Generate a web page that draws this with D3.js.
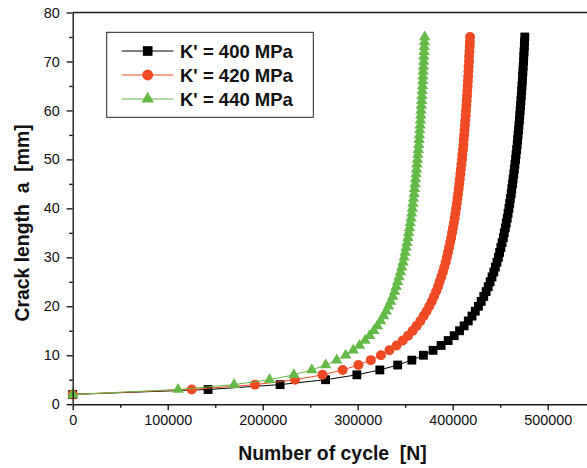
<!DOCTYPE html>
<html>
<head>
<meta charset="utf-8">
<script src="https://cdn.jsdelivr.net/npm/d3@7"></script>
<style>
  html, body { margin: 0; padding: 0; background: #fff; }
  svg { display: block; font-family: "Liberation Sans", Arial, Helvetica, sans-serif; }
  text.title { white-space: pre; }
</style>
</head>
<body>
<svg id="chart" width="587" height="468"></svg>
<script>
// Crack length a [mm] at each recorded step
const crackLength = [2,3,4,5,6,7,8,9,10,11,12,13,14,15,16,17,18,19,20,21,22,23,24,25,26,27,28,29,30,
  31,32,33,34,35,36,37,38,39,40,41,42,43,44,45,46,47,48,49,50,51,52,53,54,55,56,57,58,59,60,
  61,62,63,64,65,66,67,68,69,70,71,72,73,74,75];

// Number of cycles N needed to reach each crack length
const cycles400 = [0,142500,218300,266200,299100,323300,342100,357000,369200,379300,387800,395200,401600,407200,
  412000,416400,420300,423800,427100,430000,432700,435200,437400,439400,441400,443300,444900,446600,448100,
  449400,450700,452000,453300,454300,455400,456400,457400,458300,459200,460000,460700,461600,462200,463000,
  463600,464300,464900,465500,466200,466700,467300,467900,468300,468800,469300,469700,470200,470600,471000,
  471400,471800,472200,472600,472900,473300,473600,473900,474200,474600,474800,475100,475400,475600,475900];

const cycles420 = [0,125300,191900,234000,262900,284200,300700,313800,324500,333400,340900,347400,353000,357900,
  362100,366000,369400,372500,375400,378000,380300,382500,384500,386200,388000,389700,391100,392600,393900,
  395000,396200,397300,398400,399300,400300,401200,402100,402800,403600,404300,405000,405700,406300,407000,
  407500,408100,408600,409200,409800,410200,410800,411300,411600,412100,412500,412900,413300,413700,414000,
  414400,414700,415100,415400,415700,416000,416300,416600,416800,417200,417300,417600,417900,418100,418300];

const cycles440 = [0,110900,169900,207200,232800,251700,266300,277900,287400,295300,301900,307700,312600,317000,
  320700,324200,327200,329900,332500,334800,336900,338800,340500,342100,343600,345100,346400,347700,348800,
  349900,350900,351900,352900,353700,354500,355300,356100,356800,357500,358100,358700,359400,359800,360400,
  360900,361500,361900,362400,362900,363300,363800,364300,364600,365000,365300,365700,366100,366400,366700,
  367000,367300,367600,367900,368200,368500,368700,368900,369200,369500,369600,369900,370100,370300,370500];

const seriesLabels = ["K' = 400 MPa", "K' = 420 MPa", "K' = 440 MPa"];
const xTickValues = [0, 100000, 200000, 300000, 400000, 500000];
const xMinorValues = [50000, 150000, 250000, 350000, 450000, 550000];
const yTickValues = [0, 10, 20, 30, 40, 50, 60, 70, 80];
const yMinorValues = [5, 15, 25, 35, 45, 55, 65, 75];

const xTitle = "Number of cycle  [N]";
const yTitle = "Crack length  a  [mm]";

// ---- drawing ----
const svg = d3.select("#chart");

const plotLeft = 72.7, plotRight = 595.2, plotTop = 12.5, plotBottom = 404.2;
const axisColor = "#1a1a1a";

const x = d3.scaleLinear().domain([0, 550000]).range([plotLeft, plotRight]);
const y = d3.scaleLinear().domain([0, 80]).range([plotBottom, plotTop]);

const series = [
  { label: seriesLabels[0], values: cycles400, color: "#000000", lineColor: "#000000", symbol: d3.symbolSquare, size: 78 },
  { label: seriesLabels[1], values: cycles420, color: "#ef4a23", lineColor: "#ef4a23", symbol: d3.symbolCircle, size: 78 },
  { label: seriesLabels[2], values: cycles440, color: "#64ba47", lineColor: "#64ba47", symbol: d3.symbolTriangle, size: 56 }
];

// curves + markers
const line = d3.line().x(d => x(d[0])).y(d => y(d[1]));
const plot = svg.append("g");
series.forEach(s => {
  const pts = s.values.map((n, i) => [n, crackLength[i]]);
  plot.append("path")
    .attr("d", line(pts))
    .attr("fill", "none")
    .attr("stroke", s.lineColor)
    .attr("stroke-width", 1);
  plot.append("g").selectAll("path")
    .data(pts)
    .join("path")
    .attr("transform", d => `translate(${x(d[0])},${y(d[1])})`)
    .attr("d", d3.symbol().type(s.symbol).size(s.size))
    .attr("fill", s.color);
});

// x axis
const xAxis = svg.append("g")
  .attr("transform", `translate(0,${plotBottom})`)
  .call(d3.axisBottom(x).tickValues(xTickValues).tickSize(6).tickSizeOuter(0).tickPadding(5)
        .tickFormat(d3.format("d")));
xAxis.selectAll("text").attr("font-size", 14.4).attr("fill", "#111").attr("font-family", null);
svg.append("g")
  .attr("transform", `translate(0,${plotBottom})`)
  .call(d3.axisBottom(x).tickValues(xMinorValues).tickSize(3.5).tickSizeOuter(0).tickFormat(""))
  .call(g => g.select(".domain").remove());

// y axis
const yAxis = svg.append("g")
  .attr("transform", `translate(${plotLeft},0)`)
  .call(d3.axisLeft(y).tickValues(yTickValues).tickSize(6).tickSizeOuter(0).tickPadding(7));
yAxis.selectAll("text").attr("font-size", 14.4).attr("fill", "#111").attr("font-family", null);
svg.append("g")
  .attr("transform", `translate(${plotLeft},0)`)
  .call(d3.axisLeft(y).tickValues(yMinorValues).tickSize(3.5).tickSizeOuter(0).tickFormat(""))
  .call(g => g.select(".domain").remove());

svg.selectAll(".domain, .tick line").attr("stroke", axisColor).attr("stroke-width", 1.4);

// top frame line
svg.append("line")
  .attr("x1", plotLeft).attr("x2", plotRight)
  .attr("y1", plotTop).attr("y2", plotTop)
  .attr("stroke", axisColor).attr("stroke-width", 1.4);

// axis titles
svg.append("text")
  .attr("class", "title")
  .attr("x", 332.5).attr("y", 460)
  .attr("text-anchor", "middle")
  .attr("font-size", 19.4).attr("font-weight", "bold").attr("fill", "#111")
  .text(xTitle);

svg.append("text")
  .attr("class", "title")
  .attr("transform", "translate(29,223) rotate(-90)")
  .attr("text-anchor", "middle")
  .attr("font-size", 19.4).attr("font-weight", "bold").attr("fill", "#111")
  .text(yTitle);

// legend
const legend = svg.append("g");
legend.append("rect")
  .attr("x", 106.7).attr("y", 32.3)
  .attr("width", 206.6).attr("height", 85)
  .attr("fill", "#fff").attr("stroke", "#222").attr("stroke-width", 1);
series.forEach((s, i) => {
  const cy = 51 + i * 24;
  legend.append("line")
    .attr("x1", 121.7).attr("x2", 173.5)
    .attr("y1", cy).attr("y2", cy)
    .attr("stroke", s.lineColor).attr("stroke-width", 1);
  legend.append("path")
    .attr("transform", `translate(147.7,${cy})`)
    .attr("d", d3.symbol().type(s.symbol).size(s.size * 1.2))
    .attr("fill", s.color);
  legend.append("text")
    .attr("x", 180).attr("y", cy)
    .attr("dy", "0.36em")
    .attr("font-size", 18.5).attr("font-weight", "bold").attr("fill", "#111")
    .text(s.label);
});
</script>
</body>
</html>
